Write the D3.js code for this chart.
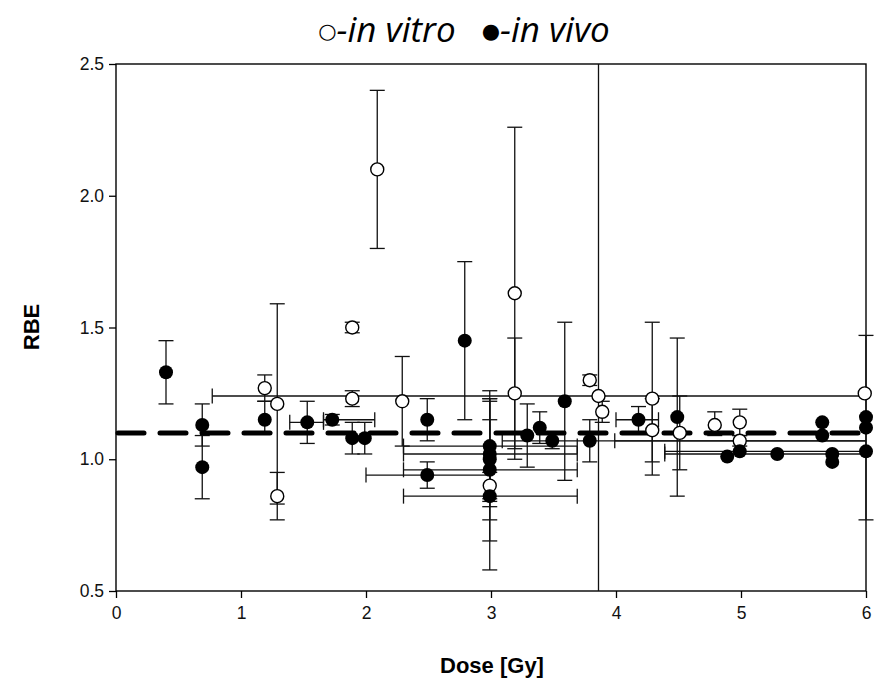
<!DOCTYPE html>
<html>
<head>
<meta charset="utf-8">
<script src="https://cdn.jsdelivr.net/npm/d3@7"></script>
<style>
  html, body { margin: 0; padding: 0; background: #fff; }
  svg { display: block; }
</style>
</head>
<body>
<svg id="chart" width="874" height="684"></svg>
<script>
// [dose, RBE, RBE low, RBE high, dose low, dose high]
const inVitro = [
  [1.19, 1.27, 1.22, 1.32],
  [1.29, 1.21, 0.83, 1.59],
  [1.29, 0.86, 0.77, 0.95],
  [1.89, 1.50, 1.48, 1.52],
  [1.89, 1.23, 1.20, 1.26],
  [2.09, 2.10, 1.80, 2.40],
  [2.29, 1.22, 1.05, 1.39],
  [2.99, 0.90, 0.85, 0.95],
  [3.19, 1.63, 1.00, 2.26],
  [3.19, 1.25, 1.04, 1.46],
  [3.79, 1.30, 1.28, 1.32],
  [3.86, 1.24, 0.00, 3.00, 0.77, 7.00],
  [3.89, 1.18, 1.14, 1.22],
  [4.29, 1.23, 0.94, 1.52],
  [4.29, 1.11, 0.99, 1.23],
  [4.51, 1.10, 0.96, 1.24],
  [4.79, 1.13, 1.09, 1.18],
  [4.99, 1.14, 1.09, 1.19],
  [4.99, 1.07, 1.05, 1.09, 3.99, 6.00],
  [5.99, 1.25]
];
const inVivo = [
  [0.40, 1.33, 1.21, 1.45],
  [0.69, 1.13, 1.05, 1.21],
  [0.69, 0.97, 0.85, 1.09],
  [1.19, 1.15, 1.10, 1.22],
  [1.53, 1.14, 1.06, 1.22, 1.39, 1.66],
  [1.73, 1.15, 1.13, 1.17, 1.66, 2.07],
  [1.89, 1.08, 1.02, 1.14],
  [1.99, 1.08, 1.02, 1.14],
  [2.49, 1.15, 1.07, 1.23],
  [2.49, 0.94, 0.89, 0.99, 2.00, 2.99],
  [2.79, 1.45, 1.15, 1.75],
  [2.99, 1.05, 0.84, 1.26, 2.30, 3.69],
  [2.99, 1.02, 0.82, 1.22, 2.30, 3.69],
  [2.99, 1.00, 0.77, 1.23],
  [2.99, 0.96, 0.69, 1.23, 2.30, 3.69],
  [2.99, 0.86, 0.58, 1.15, 2.30, 3.69],
  [3.29, 1.09, 0.97, 1.21],
  [3.39, 1.12, 1.06, 1.18],
  [3.49, 1.07, 1.04, 1.10, 3.09, 6.00],
  [3.59, 1.22, 0.92, 1.52],
  [3.79, 1.07, 0.99, 1.15],
  [4.18, 1.15, 1.10, 1.20, 4.00, 4.34],
  [4.49, 1.16, 0.86, 1.46],
  [4.89, 1.01],
  [4.99, 1.03, null, null, 4.39, 6.00],
  [5.29, 1.02, null, null, 4.39, 6.00],
  [5.65, 1.14],
  [5.65, 1.09],
  [5.73, 1.02],
  [5.73, 0.99],
  [6.00, 1.16],
  [6.00, 1.12, 0.77, 1.47],
  [6.00, 1.03]
];
const referenceRBE = 1.1;
const xTicks = [0, 1, 2, 3, 4, 5, 6];
const yTicks = [0.5, 1.0, 1.5, 2.0, 2.5];
const xDomain = [0, 6];
const yDomain = [0.5, 2.5];
const legendItems = [["○", "-in vitro"], ["●", "-in vivo"]];
const xTitle = "Dose [Gy]";
const yTitle = "RBE";

const svg = d3.select("#chart");
const x = d3.scaleLinear().domain(xDomain).range([116, 866]);
const y = d3.scaleLinear().domain(yDomain).range([591, 64]);
const cap = 7.5;
const clampX = v => Math.max(xDomain[0], Math.min(xDomain[1], v));
const clampY = v => Math.max(yDomain[0], Math.min(yDomain[1], v));
const sans = "'Liberation Sans', Arial, sans-serif";

// axes
const xAxis = svg.append("g").attr("transform", "translate(0,591)")
  .call(d3.axisBottom(x).tickValues(xTicks).tickSize(7).tickSizeOuter(0).tickFormat(d3.format("d")));
const yAxis = svg.append("g").attr("transform", "translate(116,0)")
  .call(d3.axisLeft(y).tickValues(yTicks).tickSize(7).tickSizeOuter(0).tickFormat(d3.format(".1f")));
[xAxis, yAxis].forEach(g => {
  g.select(".domain").remove();
  g.selectAll(".tick line").attr("stroke", "#000").attr("stroke-width", 1.3);
  g.selectAll(".tick text").attr("fill", "#111").style("font-family", sans).style("font-size", "17.5px");
});
xAxis.selectAll(".tick text").attr("dy", "1.05em").attr("y", 10);
yAxis.selectAll(".tick text").attr("x", -12);

// frame
svg.append("rect").attr("x", x(xDomain[0])).attr("y", y(yDomain[1]))
  .attr("width", x(xDomain[1]) - x(xDomain[0])).attr("height", y(yDomain[0]) - y(yDomain[1]))
  .attr("fill", "none").attr("stroke", "#000").attr("stroke-width", 1.4);

// error bars
const eb = svg.append("g").attr("stroke", "#111").attr("stroke-width", 1.3).attr("fill", "none");
function drawErr(d) {
  const [dx, r, lo, hi, xlo, xhi] = d;
  const cx = x(dx), cy = y(r);
  if (lo != null && hi != null) {
    eb.append("line").attr("x1", cx).attr("x2", cx).attr("y1", y(clampY(lo))).attr("y2", y(clampY(hi)));
    [lo, hi].forEach(v => {
      if (v >= yDomain[0] && v <= yDomain[1])
        eb.append("line").attr("x1", cx - cap).attr("x2", cx + cap).attr("y1", y(v)).attr("y2", y(v));
    });
  }
  if (xlo != null && xhi != null) {
    eb.append("line").attr("y1", cy).attr("y2", cy).attr("x1", x(clampX(xlo))).attr("x2", x(clampX(xhi)));
    [xlo, xhi].forEach(v => {
      if (v >= xDomain[0] && v < xDomain[1] - 0.02)
        eb.append("line").attr("y1", cy - cap).attr("y2", cy + cap).attr("x1", x(v)).attr("x2", x(v));
    });
  }
}
inVitro.forEach(drawErr);
inVivo.forEach(drawErr);

// reference dashed line
svg.append("line").attr("x1", x(xDomain[0]) + 2).attr("x2", x(xDomain[1]) - 2)
  .attr("y1", y(referenceRBE)).attr("y2", y(referenceRBE))
  .attr("stroke", "#000").attr("stroke-width", 5).attr("stroke-linecap", "round")
  .attr("stroke-dasharray", "26,16");

// points
svg.append("g").selectAll("circle").data(inVitro).join("circle")
  .attr("cx", d => x(d[0])).attr("cy", d => y(d[1])).attr("r", 6.5)
  .attr("fill", "#fff").attr("stroke", "#000").attr("stroke-width", 1.4);
svg.append("g").selectAll("circle").data(inVivo).join("circle")
  .attr("cx", d => x(d[0])).attr("cy", d => y(d[1])).attr("r", 7)
  .attr("fill", "#000");

// axis titles
svg.append("text").attr("x", 492).attr("y", 673).attr("text-anchor", "middle")
  .style("font-family", sans).style("font-size", "22px").style("font-weight", "bold")
  .text(xTitle);
svg.append("text").attr("transform", "translate(39,327) rotate(-90)").attr("text-anchor", "middle")
  .style("font-family", sans).style("font-size", "22px").style("font-weight", "bold")
  .text(yTitle);

// legend title
const lg = svg.append("text").attr("x", 464).attr("y", 42).attr("text-anchor", "middle")
  .style("font-family", "'Open Sans', sans-serif").style("font-size", "35px").attr("fill", "#000");
legendItems.forEach((it, i) => {
  lg.append("tspan").style("font-style", "normal").style("font-family", "'DejaVu Sans', sans-serif")
    .style("font-size", "21px").attr("dx", i === 0 ? 0 : 26).attr("dy", -4).text(it[0]);
  lg.append("tspan").style("font-style", "italic").attr("dy", 4).text(it[1]);
});
</script>
</body>
</html>
